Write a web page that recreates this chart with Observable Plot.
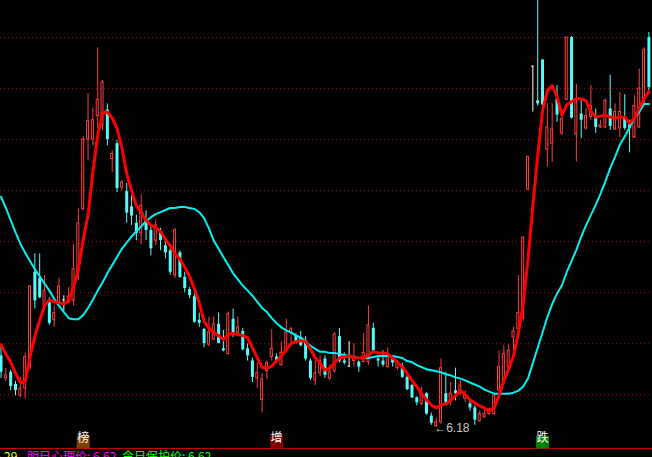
<!DOCTYPE html>
<html><head><meta charset="utf-8">
<script src="https://cdn.jsdelivr.net/npm/d3@7"></script>
<script src="https://cdn.jsdelivr.net/npm/@observablehq/plot@0.6"></script>
<style>
html,body{margin:0;padding:0;background:#000;width:652px;height:457px;overflow:hidden;}
#chart{position:relative;width:652px;height:457px;}
#caption{position:absolute;left:0;top:450px;height:12px;width:652px;font:12px/12px "Noto Sans CJK SC",sans-serif;white-space:nowrap;}
#caption span{position:absolute;top:0;}
</style></head><body>
<div id="chart"><div id="caption"></div></div>
<script>
// Daily candles (index 0..134)
const open=[6.88,6.66,6.72,6.60,6.49,6.56,6.77,7.70,7.64,7.37,
7.40,7.23,7.40,7.43,7.40,7.42,7.69,8.32,9.00,9.00,
9.23,9.14,9.29,8.81,8.96,8.53,8.49,8.34,8.18,8.08,
8.21,8.11,8.01,8.08,7.96,7.91,7.67,7.89,7.65,7.53,
7.46,7.23,7.14,6.99,7.04,7.19,6.95,6.90,7.24,7.11,
7.12,6.95,6.83,6.66,6.45,6.73,6.87,6.87,6.79,6.93,
7.11,7.08,7.06,7.03,6.83,6.64,6.71,6.85,6.66,6.73,
7.07,6.83,6.78,6.83,6.82,6.82,6.82,7.15,6.85,6.83,
6.77,6.85,6.76,6.78,6.67,6.59,6.47,6.41,6.51,6.29,
6.19,6.23,6.51,6.44,6.54,6.54,6.46,6.41,6.37,6.24,
6.28,6.31,6.31,6.54,6.62,6.77,7.06,7.14,7.25,8.51,
9.72,9.38,9.78,8.90,8.96,9.40,9.06,9.39,10.00,9.05,
9.25,9.11,9.22,9.21,9.12,9.12,9.30,9.10,9.11,9.21,
9.16,9.02,9.12,9.35,10.00];
const close=[6.72,6.69,6.58,6.54,6.56,6.87,7.56,7.42,7.45,7.52,
7.20,7.30,7.56,7.43,7.46,7.73,8.18,9.00,9.18,9.19,
9.39,9.56,9.00,8.86,8.52,8.58,8.28,8.25,8.08,8.35,
8.11,7.93,8.16,8.01,7.89,7.70,8.11,7.65,7.54,7.47,
7.21,7.20,7.00,7.11,7.19,7.00,6.93,7.29,7.08,7.16,
6.94,6.88,6.67,6.71,6.65,6.81,6.95,6.83,6.91,7.11,
7.14,7.01,6.98,6.85,6.66,6.71,6.83,6.69,6.72,7.09,
6.83,6.81,6.78,6.86,6.77,6.91,7.18,6.93,6.83,6.79,
6.88,6.81,6.81,6.67,6.55,6.47,6.42,6.51,6.31,6.22,
6.23,6.76,6.42,6.51,6.51,6.59,6.49,6.37,6.25,6.31,
6.31,6.35,6.49,6.77,6.90,6.93,7.12,7.30,8.04,8.83,
9.72,9.35,9.34,9.12,9.10,9.24,9.20,10.00,9.21,9.36,
9.19,9.23,9.33,9.12,9.14,9.38,9.13,9.27,9.27,9.11,
9.11,9.33,9.50,9.88,9.51];
const high=[6.98,6.76,6.74,6.63,6.67,6.91,7.57,7.88,7.88,7.67,
7.45,7.37,7.64,7.47,7.55,7.97,8.32,9.03,9.45,9.31,
9.90,9.58,9.35,8.89,8.99,8.60,8.57,8.45,8.26,8.46,
8.30,8.16,8.21,8.13,8.01,7.93,8.13,7.91,7.70,7.55,
7.49,7.30,7.15,7.26,7.26,7.30,7.13,7.31,7.34,7.26,
7.15,7.00,6.86,6.81,6.71,6.83,7.14,6.90,7.01,7.24,
7.16,7.10,7.12,7.07,6.85,6.83,6.88,6.88,6.79,7.11,
7.15,6.91,7.02,7.00,6.83,7.10,7.37,7.20,6.88,6.93,
6.96,6.86,6.83,6.81,6.69,6.60,6.48,6.57,6.52,6.32,
6.27,6.85,6.72,6.62,6.76,6.64,6.54,6.44,6.39,6.34,
6.35,6.37,6.51,6.93,6.98,6.99,7.16,7.67,8.04,8.83,
9.72,10.69,9.78,9.35,9.35,9.53,9.29,10.00,10.01,9.54,
9.38,9.30,9.53,9.30,9.19,9.40,9.63,9.35,9.46,9.44,
9.19,9.43,9.69,9.90,10.05];
const low=[6.66,6.63,6.54,6.49,6.47,6.46,6.74,7.34,7.44,7.32,
7.18,7.16,7.37,7.32,7.39,7.37,7.62,8.30,8.79,8.94,
9.11,9.09,8.94,8.68,8.48,8.50,8.18,8.16,8.01,7.97,
8.01,7.86,7.96,7.91,7.83,7.67,7.64,7.64,7.50,7.44,
7.20,7.16,6.96,6.97,7.03,7.00,6.92,6.89,7.06,7.08,
6.93,6.83,6.62,6.56,6.32,6.65,6.83,6.81,6.78,6.91,
6.98,7.00,6.97,6.83,6.64,6.59,6.68,6.66,6.64,6.71,
6.81,6.79,6.77,6.77,6.72,6.81,6.79,6.91,6.77,6.77,
6.76,6.77,6.74,6.66,6.54,6.46,6.39,6.39,6.30,6.20,
6.18,6.21,6.39,6.39,6.44,6.49,6.42,6.34,6.20,6.23,
6.27,6.30,6.30,6.53,6.61,6.74,6.91,7.13,7.22,8.50,
9.27,9.33,9.33,8.73,8.78,9.17,9.04,9.38,9.20,8.78,
9.01,9.09,9.19,9.06,9.11,9.11,9.09,9.09,9.02,9.09,
8.87,9.01,9.11,9.33,9.48];
// short average (red) and long average (cyan)
const maShort=[6.99,6.90,6.82,6.71,6.62,6.63,6.87,7.07,7.23,7.37,
7.43,7.41,7.40,7.39,7.42,7.55,7.73,8.02,8.26,8.68,
9.04,9.26,9.27,9.21,9.11,8.92,8.67,8.50,8.35,8.29,
8.21,8.16,8.14,8.10,8.02,7.96,7.88,7.83,7.75,7.66,
7.54,7.40,7.22,7.15,7.11,7.08,7.04,7.09,7.10,7.09,
7.08,7.06,6.96,6.86,6.77,6.76,6.78,6.83,6.88,6.94,
7.00,7.02,7.03,7.02,6.95,6.86,6.81,6.74,6.76,6.81,
6.86,6.87,6.88,6.86,6.86,6.86,6.89,6.92,6.91,6.91,
6.90,6.86,6.82,6.77,6.71,6.64,6.58,6.51,6.45,6.40,
6.37,6.40,6.41,6.44,6.49,6.54,6.50,6.45,6.42,6.39,
6.37,6.34,6.37,6.49,6.64,6.75,6.88,7.10,7.39,7.83,
8.35,8.84,9.28,9.48,9.53,9.42,9.24,9.34,9.37,9.40,
9.40,9.38,9.28,9.22,9.23,9.24,9.22,9.21,9.22,9.22,
9.16,9.21,9.31,9.40,9.47];
const maLong=[8.44,8.33,8.21,8.09,7.98,7.89,7.81,7.73,7.66,7.59,
7.52,7.44,7.37,7.31,7.25,7.24,7.24,7.28,7.35,7.43,
7.52,7.60,7.69,7.77,7.85,7.93,7.99,8.05,8.10,8.15,
8.20,8.24,8.27,8.29,8.31,8.33,8.33,8.34,8.34,8.33,
8.32,8.29,8.23,8.13,8.01,7.93,7.85,7.77,7.69,7.63,
7.57,7.52,7.47,7.41,7.35,7.31,7.25,7.20,7.16,7.13,
7.11,7.08,7.06,7.02,6.98,6.95,6.92,6.92,6.91,6.91,
6.90,6.89,6.88,6.87,6.86,6.86,6.86,6.87,6.88,6.88,
6.88,6.88,6.87,6.86,6.83,6.82,6.79,6.77,6.75,6.74,
6.73,6.72,6.70,6.69,6.67,6.66,6.64,6.62,6.60,6.58,
6.55,6.53,6.51,6.51,6.51,6.51,6.52,6.54,6.58,6.66,
6.81,6.96,7.11,7.26,7.39,7.49,7.57,7.70,7.81,7.92,
8.05,8.16,8.26,8.36,8.47,8.59,8.72,8.83,8.95,9.03,
9.12,9.21,9.27,9.35,9.35];
const gridPrices=[6.5,7.0,7.5,8.0,8.5,9.0,9.5,10.0];
const signalIndex=[17,57,112];
const signalLabel=["榜","增","跌"];
const captionText=["6.29","明日心理价: 6.62","今日保护价: 6.62"];

const Y_MIN=5.973, Y_MAX=10.363;
const px=1/4.835; // one pixel in index units
const candles=open.map((o,i)=>({i,o,h:high[i],l:low[i],c:close[i],dir:close[i]>o?1:close[i]<o?-1:0}));
const up=candles.filter(d=>d.dir>0), down=candles.filter(d=>d.dir<0), doji=candles.filter(d=>d.dir===0);
const minIdx=d3.minIndex(low);
const sigColors=["#7f3f00","#800000","#008000"];

const chart=Plot.plot({
  width:652,height:449,marginTop:0,marginRight:0,marginBottom:0,marginLeft:0,
  style:{background:"#000",overflow:"hidden"},
  x:{domain:[0,134],range:[0.5,648.4],axis:null},
  y:{domain:[Y_MIN,Y_MAX],range:[448,0],axis:null},
  marks:[
    Plot.ruleY(gridPrices,{stroke:"#b00000",strokeDasharray:"1,3"}),
    Plot.ruleY([Y_MIN],{stroke:"#c00000"}),
    Plot.ruleX(up,{x:"i",y1:"l",y2:"h",stroke:"#ff3c3c"}),
    Plot.rect(up,{x1:d=>d.i-px,x2:d=>d.i+px,y1:"o",y2:"c",fill:"#000",stroke:"#ff3c3c"}),
    Plot.ruleX(down,{x:"i",y1:"l",y2:"h",stroke:"#54fcfc"}),
    Plot.ruleX(down,{x:"i",y1:"o",y2:"c",stroke:"#54fcfc",strokeWidth:3}),
    Plot.ruleX(doji,{x:"i",y1:"l",y2:"h",stroke:"#ffffff"}),
    Plot.ruleY(doji,{y:"o",x1:d=>d.i-px*1.2,x2:d=>d.i+px*1.2,stroke:"#ffffff"}),
    Plot.line(maLong,{x:(d,i)=>i,y:d=>d,stroke:"#00f0f0",strokeWidth:2}),
    Plot.line(maShort,{x:(d,i)=>i,y:d=>d,stroke:"#ff0000",strokeWidth:3}),
    Plot.text([minIdx],{x:d=>d,y:d=>low[d],text:d=>"←"+low[d].toFixed(2),textAnchor:"start",dx:-2,dy:1,fill:"#c8c8c8",fontSize:12,fontFamily:"Liberation Sans, DejaVu Sans, sans-serif"}),
    ...signalIndex.map((si,k)=>Plot.dot([si],{x:d=>d,frameAnchor:"bottom",dy:-7.5,symbol:"square",r:7.3,fill:sigColors[k],stroke:null})),
    Plot.text(signalIndex,{x:d=>d,frameAnchor:"bottom",dy:-7.5,text:(d,i)=>signalLabel[i],fill:"#ffffff",fontSize:12,fontFamily:"Noto Sans CJK SC"})
  ]
});
document.getElementById("chart").prepend(chart);
const capColors=["#ffff00","#ff00ff","#00ff00"];
const capLeft=[-6,27,122];
const cap=document.getElementById("caption");
captionText.forEach((t,k)=>{const s=document.createElement("span");s.textContent=t;s.style.color=capColors[k];s.style.left=capLeft[k]+"px";cap.appendChild(s);});
</script>
</body></html>
